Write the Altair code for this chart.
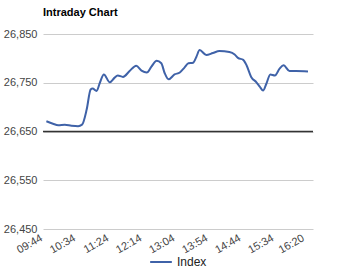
import altair as alt
import pandas as pd

times = ["09:44", "09:54", "10:02", "10:12", "10:22", "10:32", "10:38", "10:45", "10:51", "10:54",
         "11:00", "11:05", "11:11", "11:20", "11:27", "11:32", "11:40", "11:50", "12:00", "12:08",
         "12:16", "12:23", "12:31", "12:38", "12:43", "12:49", "12:58", "13:06", "13:13", "13:19",
         "13:26", "13:31", "13:36", "13:46", "13:56", "14:06", "14:21", "14:29", "14:34", "14:42",
         "14:47", "14:54", "15:02", "15:07", "15:12", "15:17", "15:23", "15:30", "15:37", "15:43",
         "15:52", "16:02", "16:20"]
values = [26671, 26666, 26663, 26664, 26662, 26661, 26664, 26695, 26736, 26738,
          26733, 26750, 26767, 26751, 26760, 26765, 26762, 26774, 26785, 26775,
          26771, 26783, 26795, 26790, 26770, 26757, 26767, 26771, 26781, 26790,
          26791, 26803, 26817, 26807, 26811, 26815, 26813, 26808, 26801, 26797,
          26786, 26762, 26751, 26742, 26734, 26748, 26767, 26765, 26779, 26786,
          26774, 26774, 26773]
tick_labels = ["09:44", "10:34", "11:24", "12:14", "13:04", "13:54", "14:44", "15:34", "16:20"]
y_ticks = [26450, 26550, 26650, 26750, 26850]
baseline_value = [26650]
series_name = "Index"


def to_min(t):
    h, m = t.split(":")
    return int(h) * 60 + int(m)


df = pd.DataFrame({"t": [to_min(t) for t in times], "v": values, "s": series_name})
tick_vals = [to_min(t) for t in tick_labels]
mapping = "{" + ",".join(f"'{v}':'{l}'" for v, l in zip(tick_vals, tick_labels)) + "}"
label_expr = f"{mapping}[toString(datum.value)]"

FONT = "Arial, Liberation Sans, sans-serif"
LINE = "#3f62a8"

x_scale = alt.Scale(domain=[578.9, 987.6], nice=False, zero=False)
y_scale = alt.Scale(domain=[26450, 26850], nice=False, zero=False)

y_axis = alt.Axis(values=y_ticks, format=",.0f", title=None, grid=True, gridColor="#cccccc",
                  domain=False, ticks=False, labelPadding=6, labelFontSize=11,
                  labelColor="#444", labelFont=FONT)

line = alt.Chart(df).mark_line(strokeWidth=2, interpolate="monotone").encode(
    x=alt.X("t:Q", scale=x_scale,
            axis=alt.Axis(values=tick_vals, labelExpr=label_expr, title=None, grid=False,
                          domain=False, ticks=False, labelAngle=-30, labelAlign="right",
                          labelBaseline="middle", labelPadding=8, labelOffset=-5,
                          labelFontSize=11, labelColor="#444", labelFont=FONT,
                          labelOverlap=False)),
    y=alt.Y("v:Q", scale=y_scale, axis=y_axis),
    color=alt.Color("s:N", scale=alt.Scale(range=[LINE]),
                    legend=alt.Legend(title=None, orient="none", legendX=106, legendY=216,
                                      symbolType="stroke", symbolSize=470, symbolStrokeWidth=2,
                                      symbolStrokeColor=LINE,
                                      labelFontSize=12, labelColor="#222", labelFont=FONT,
                                      labelOffset=4, padding=0)),
)

base = alt.Chart(pd.DataFrame({"b": baseline_value})).mark_rule(color="#333333", strokeWidth=1.5).encode(
    y=alt.Y("b:Q", scale=y_scale, axis=y_axis)
)

chart = alt.layer(line, base).properties(
    width=270, height=195,
    title=alt.TitleParams("Intraday Chart", anchor="start", fontSize=11, fontWeight="bold",
                          font=FONT, color="#000", offset=10, frame="group"),
    autosize=alt.AutoSizeParams(type="none"),
    padding={"left": 43, "top": 34, "right": 40, "bottom": 39},
).configure_view(stroke=None)

chart.save("out.html", embed_options={"renderer": "svg", "actions": False})
